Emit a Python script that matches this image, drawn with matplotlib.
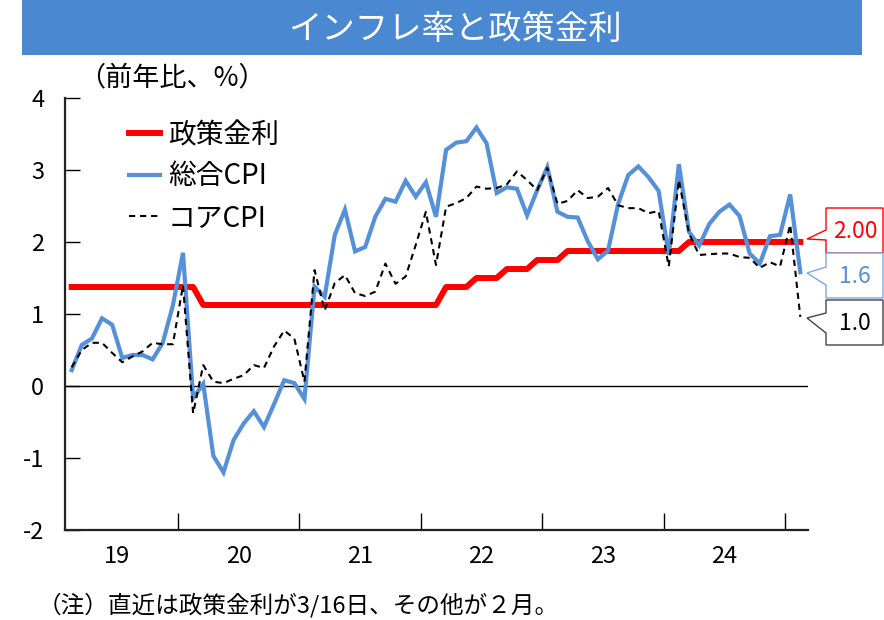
import matplotlib
matplotlib.use("Agg")
import matplotlib.pyplot as plt
from matplotlib.patches import Rectangle, Polygon

plt.rcParams['font.family'] = ['Noto Sans CJK JP', 'DejaVu Sans']

# ---------------- data (monthly, Feb 2019 - Feb 2025) ----------------
start_month = 1  # Feb 2019 (Jan 2019 = 0)
cpi = [0.22, 0.57, 0.66, 0.94, 0.85, 0.39, 0.43, 0.43, 0.37, 0.60, 1.12,
       1.85, -0.17, 0.03, -0.97, -1.20, -0.75, -0.52, -0.35, -0.57, -0.25, 0.08, 0.04,
       -0.18, 1.38, 1.24, 2.10, 2.45, 1.87, 1.93, 2.35, 2.60, 2.56, 2.85, 2.63,
       2.83, 2.35, 3.28, 3.38, 3.40, 3.59, 3.37, 2.68, 2.76, 2.74, 2.37, 2.72,
       3.04, 2.42, 2.35, 2.34, 2.01, 1.76, 1.88, 2.53, 2.93, 3.05, 2.90, 2.71,
       1.82, 3.08, 2.14, 1.95, 2.25, 2.42, 2.52, 2.36, 1.84, 1.70, 2.08, 2.10,
       2.66, 1.58]
core_cpi = [0.26, 0.50, 0.60, 0.60, 0.46, 0.33, 0.41, 0.48, 0.60, 0.58, 0.58,
            1.40, -0.38, 0.29, 0.06, 0.04, 0.10, 0.15, 0.29, 0.25, 0.55, 0.77, 0.66,
            0.06, 1.61, 1.05, 1.43, 1.54, 1.29, 1.25, 1.31, 1.70, 1.42, 1.52, 1.96,
            2.42, 1.68, 2.49, 2.54, 2.61, 2.77, 2.74, 2.75, 2.80, 2.98, 2.86, 2.72,
            3.03, 2.53, 2.57, 2.72, 2.61, 2.63, 2.75, 2.51, 2.47, 2.47, 2.40, 2.43,
            1.66, 2.86, 2.12, 1.82, 1.83, 1.84, 1.84, 1.79, 1.78, 1.64, 1.72, 1.66,
            2.24, 0.96]
policy_rate = [1.375, 1.375, 1.375, 1.375, 1.375, 1.375, 1.375, 1.375, 1.375, 1.375, 1.375,
               1.375, 1.375, 1.125, 1.125, 1.125, 1.125, 1.125, 1.125, 1.125, 1.125, 1.125, 1.125,
               1.125, 1.125, 1.125, 1.125, 1.125, 1.125, 1.125, 1.125, 1.125, 1.125, 1.125, 1.125,
               1.125, 1.125, 1.375, 1.375, 1.375, 1.5, 1.5, 1.5, 1.625, 1.625, 1.625, 1.75,
               1.75, 1.75, 1.875, 1.875, 1.875, 1.875, 1.875, 1.875, 1.875, 1.875, 1.875, 1.875,
               1.875, 1.875, 2.0, 2.0, 2.0, 2.0, 2.0, 2.0, 2.0, 2.0, 2.0, 2.0,
               2.0, 2.0]
year_labels = ['19', '20', '21', '22', '23', '24']
series_labels = ['政策金利', '総合CPI', 'コアCPI']
last_labels = ['2.00', '1.6', '1.0']
title = 'インフレ率と政策金利'
unit_label = '（前年比、%）'
note = '（注）直近は政策金利が3/16日、その他が２月。'

x = list(range(start_month, start_month + len(cpi)))

# ---------------- figure ----------------
W, H = 884, 620
fig = plt.figure(figsize=(W / 100, H / 100), dpi=100)

def fx(px):
    return px / W

def fy(py):
    return 1 - py / H

# title bar
fig.patches.append(Rectangle((fx(22), fy(55)), fx(862) - fx(22), fy(0) - fy(55),
                             transform=fig.transFigure, facecolor='#4a88d2',
                             edgecolor='none', zorder=0))
fig.text(fx(455), fy(29), title, color='white', fontsize=24,
         ha='center', va='center')

ax = fig.add_axes([fx(65), fy(530), fx(808) - fx(65), fy(98) - fy(530)])

red = '#ff0000'
blue = '#5590d8'
ax.plot(x, policy_rate, color=red, lw=4.3, solid_joinstyle='round', zorder=3,
        label=series_labels[0])
ax.plot(x, cpi, color=blue, lw=3.0, solid_joinstyle='miter', zorder=4,
        label=series_labels[1])
ax.plot(x, core_cpi, color='black', lw=1.5, ls=(0, (3.0, 2.3)), zorder=5,
        label=series_labels[2])
ax.axhline(0, color='black', lw=1.0, zorder=2)

ax.set_xlim(0.34, 73.76)
ax.set_ylim(-2, 4)
ax.set_yticks(range(-2, 5))
ax.set_yticklabels([str(v) for v in range(-2, 5)])
ax.tick_params(axis='y', direction='in', length=11, width=1.0, pad=15,
               labelsize=17, colors='black')
ax.set_xticks([11.5 + 12 * k for k in range(6)])
ax.set_xticks([5.5 + 12 * k for k in range(6)], minor=True)
ax.set_xticklabels([])
ax.set_xticklabels(year_labels, minor=True)
ax.tick_params(axis='x', which='major', direction='in', length=12, width=1.0)
ax.tick_params(axis='x', which='minor', length=0, pad=11, labelsize=17)
for s in ['top', 'right']:
    ax.spines[s].set_visible(False)
for s in ['left', 'bottom']:
    ax.spines[s].set_linewidth(1.6)
    ax.spines[s].set_color('#222222')
ax.set_facecolor('none')

leg = ax.legend(loc='upper left', bbox_to_anchor=(fx(129), fy(120)),
                bbox_transform=fig.transFigure, frameon=False, fontsize=20,
                handlelength=1.1, handletextpad=0.3, labelspacing=0.41,
                borderpad=0, borderaxespad=0)

fig.text(fx(78), fy(78), unit_label, fontsize=19.5, ha='left', va='center')
fig.text(fx(38), fy(605), note, fontsize=17, ha='left', va='center')

# callouts
callouts = [
    (208, 253, 230, 239, 240, red, red),
    (253, 298, 267, 273, 285, blue, '#7aa8e0'),
    (300, 345, 313, 318, 333, 'black', '#444444'),
]
for (top, bot, p1, tip, p2, tcol, ecol), lab in zip(callouts, last_labels):
    left, right, tipx = 826, 883, 807
    pts = [(left, top), (right, top), (right, bot), (left, bot), (left, p2),
           (tipx, tip), (left, p1)]
    poly = Polygon([(fx(a), fy(b)) for a, b in pts], closed=True,
                   transform=fig.transFigure, facecolor='white', edgecolor=ecol,
                   lw=1.0, zorder=10)
    fig.patches.append(poly)
    fig.text(fx(855), fy((top + bot) / 2 + 1), lab, color=tcol, fontsize=16.5,
             ha='center', va='center', zorder=11)

fig.savefig('out.png', dpi=100)
